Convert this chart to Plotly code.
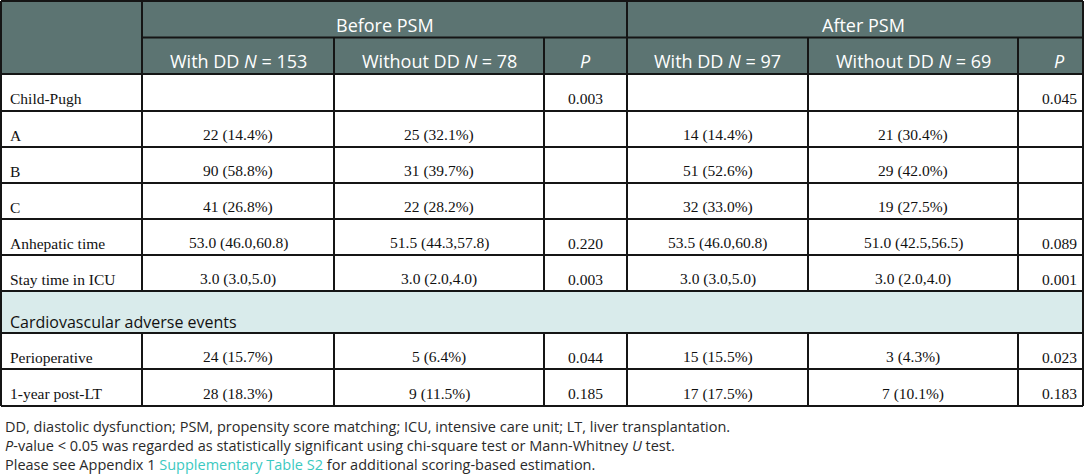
import plotly.graph_objects as go

# ---------------- data ----------------
group_headers = ["Before PSM", "After PSM"]
sub_headers = ["With DD <i>N</i> = 153", "Without DD <i>N</i> = 78", "<i>P</i>",
               "With DD <i>N</i> = 97", "Without DD <i>N</i> = 69", "<i>P</i>"]

row_labels = ["Child-Pugh", "A", "B", "C", "Anhepatic time", "Stay time in ICU"]
before_with = ["", "22 (14.4%)", "90 (58.8%)", "41 (26.8%)", "53.0 (46.0,60.8)", "3.0 (3.0,5.0)"]
before_without = ["", "25 (32.1%)", "31 (39.7%)", "22 (28.2%)", "51.5 (44.3,57.8)", "3.0 (2.0,4.0)"]
before_p = ["0.003", "", "", "", "0.220", "0.003"]
after_with = ["", "14 (14.4%)", "51 (52.6%)", "32 (33.0%)", "53.5 (46.0,60.8)", "3.0 (3.0,5.0)"]
after_without = ["", "21 (30.4%)", "29 (42.0%)", "19 (27.5%)", "51.0 (42.5,56.5)", "3.0 (2.0,4.0)"]
after_p = ["0.045", "", "", "", "0.089", "0.001"]

section_title = "Cardiovascular adverse events"
cv_labels = ["Perioperative", "1-year post-LT"]
cv_before_with = ["24 (15.7%)", "28 (18.3%)"]
cv_before_without = ["5 (6.4%)", "9 (11.5%)"]
cv_before_p = ["0.044", "0.185"]
cv_after_with = ["15 (15.5%)", "17 (17.5%)"]
cv_after_without = ["3 (4.3%)", "7 (10.1%)"]
cv_after_p = ["0.023", "0.183"]

footnotes = [
    "DD, diastolic dysfunction; PSM, propensity score matching; ICU, intensive care unit; LT, liver transplantation.",
    "<i>P</i>-value &lt; 0.05 was regarded as statistically significant using chi-square test or Mann-Whitney <i>U</i> test.",
    "Please see Appendix 1 <span style='color:#3cc9c1'>Supplementary Table S2</span> for additional scoring-based estimation.",
]

# ---------------- layout geometry ----------------
W, H = 1084, 475
col_edges = [1, 142, 334, 544, 627, 808, 1018, 1100]   # last column runs past the crop
right_border = 1083
hdr_edges = [1, 37.5, 74]
body_edges = [74, 111, 147, 183, 219, 255, 291]
sec_edges = [291, 333]
cv_edges = [333, 369, 406]

HDR_FILL = "#5c7472"
SEC_FILL = "#d9ebeb"
LINE = "#151515"
LW = 2

body_font = dict(family="Liberation Serif, Times New Roman, serif", size=15.5, color="#111")
hdr_font = dict(family="Open Sans, sans-serif", size=18, color="#ffffff")
sec_font = dict(family="Open Sans, sans-serif", size=16, color="#111")
foot_font = dict(family="Open Sans, sans-serif", size=14.5, color="#2a2a2a")

fig = go.Figure()
fig.add_trace(go.Scatter(x=[0, W], y=[0, H], mode="markers",
                         marker=dict(opacity=0), hoverinfo="skip", showlegend=False))

shapes = []
annotations = []


def rect(x0, x1, y0, y1, fill):
    shapes.append(dict(type="rect", xref="x", yref="y", x0=x0, x1=x1, y0=y0, y1=y1,
                       fillcolor=fill, line=dict(width=0), layer="below"))


def line(x0, x1, y0, y1):
    shapes.append(dict(type="line", xref="x", yref="y", x0=x0, x1=x1, y0=y0, y1=y1,
                       line=dict(color=LINE, width=LW)))


def text(x, y, s, font, anchor="center"):
    annotations.append(dict(x=x, y=y, xref="x", yref="y", text=s, showarrow=False,
                            xanchor=anchor, yanchor="middle", font=font))


xr = right_border
# fills
rect(col_edges[0], xr, hdr_edges[0], hdr_edges[-1], HDR_FILL)
rect(col_edges[0], xr, sec_edges[0], sec_edges[1], SEC_FILL)

# header text
centers = [(col_edges[i] + col_edges[i + 1]) / 2 for i in range(len(col_edges) - 1)]
text((col_edges[1] + col_edges[4]) / 2, (hdr_edges[0] + hdr_edges[1]) / 2 + 6, group_headers[0], hdr_font)
text((col_edges[4] + col_edges[7]) / 2, (hdr_edges[0] + hdr_edges[1]) / 2 + 6, group_headers[1], hdr_font)
for j, s in enumerate(sub_headers):
    text(centers[j + 1], (hdr_edges[1] + hdr_edges[2]) / 2 + 5.5, s, hdr_font)

# body rows
cols = [before_with, before_without, before_p, after_with, after_without, after_p]
for i, lab in enumerate(row_labels):
    yc = (body_edges[i] + body_edges[i + 1]) / 2 + 6
    text(8, yc, lab, body_font, "left")
    for j, c in enumerate(cols):
        if c[i]:
            text(centers[j + 1], yc, c[i], body_font)

text(8, (sec_edges[0] + sec_edges[1]) / 2 + 10, section_title, sec_font, "left")

cv_cols = [cv_before_with, cv_before_without, cv_before_p, cv_after_with, cv_after_without, cv_after_p]
for i, lab in enumerate(cv_labels):
    yc = (cv_edges[i] + cv_edges[i + 1]) / 2 + 6
    text(8, yc, lab, body_font, "left")
    for j, c in enumerate(cv_cols):
        text(centers[j + 1], yc, c[i], body_font)

# grid lines
line(col_edges[0], xr, hdr_edges[0], hdr_edges[0])                # top
line(col_edges[1], xr, hdr_edges[1], hdr_edges[1])                # between header rows
for y in body_edges + sec_edges[1:] + cv_edges[1:]:
    line(col_edges[0], xr, y, y)
line(col_edges[0], col_edges[0], hdr_edges[0], cv_edges[-1])      # left border
line(xr, xr, hdr_edges[0], cv_edges[-1])                           # right border
for k in (1, 4):
    line(col_edges[k], col_edges[k], hdr_edges[0], hdr_edges[-1])
for k in (2, 3, 5, 6):
    line(col_edges[k], col_edges[k], hdr_edges[1], hdr_edges[-1])
for k in range(1, 7):
    line(col_edges[k], col_edges[k], body_edges[0], body_edges[-1])
    line(col_edges[k], col_edges[k], cv_edges[0], cv_edges[-1])

# footnotes
for i, s in enumerate(footnotes):
    text(3, 426 + 19 * i, s, foot_font, "left")

fig.update_layout(
    width=W, height=H, margin=dict(l=0, r=0, t=0, b=0),
    paper_bgcolor="white", plot_bgcolor="white",
    xaxis=dict(range=[0, W], visible=False, fixedrange=True),
    yaxis=dict(range=[H, 0], visible=False, fixedrange=True),
    shapes=shapes, annotations=annotations, showlegend=False,
)
fig.write_html("out.html", config={"displayModeBar": False},
               post_script="document.body.style.margin='0';document.body.style.overflow='hidden';")
